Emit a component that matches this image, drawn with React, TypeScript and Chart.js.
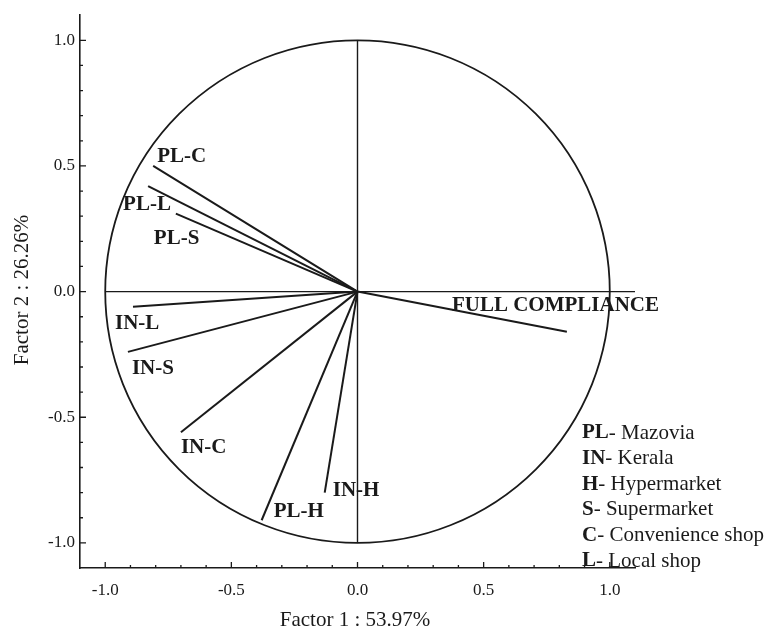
import React, { useEffect, useRef } from "react";
import { Chart, registerables } from "chart.js";

Chart.register(...registerables);

// ---- data ----
const VECTOR_NAMES = ["PL-C", "PL-L", "PL-S", "IN-L", "IN-S", "IN-C", "PL-H", "IN-H", "FULL COMPLIANCE"];
const FACTOR1 = [-0.81, -0.83, -0.72, -0.89, -0.91, -0.7, -0.38, -0.13, 0.83];
const FACTOR2 = [0.5, 0.42, 0.31, -0.06, -0.24, -0.56, -0.91, -0.8, -0.16];
const TICK_VALUES = [-1.0, -0.5, 0.0, 0.5, 1.0];
const X_TITLE = "Factor 1 : 53.97%";
const Y_TITLE = "Factor 2 : 26.26%";
const LEGEND_KEYS = ["PL", "IN", "H", "S", "C", "L"];
const LEGEND_TEXT = ["Mazovia", "Kerala", "Hypermarket", "Supermarket", "Convenience shop", "Local shop"];

// label placement (pixel offsets from vector tips) – style, not data
const LABEL_OFFSETS: [number, number][] = [
  [4, -9],
  [-25, 19],
  [-22, 25],
  [-18, 17],
  [4, 17],
  [0, 15],
  [12, -9],
  [8, -2],
  [-115, -26],
];

const FONT = "'Liberation Serif', 'Times New Roman', serif";
const INK = "#1a1a1a";

const overlayPlugin = {
  id: "overlay",
  beforeDatasetsDraw(chart: any) {
    const { ctx, scales } = chart;
    const xs = scales.x;
    const ys = scales.y;
    const cx = xs.getPixelForValue(0);
    const cy = ys.getPixelForValue(0);
    const rx = xs.getPixelForValue(1) - cx;
    const ry = cy - ys.getPixelForValue(1);
    ctx.save();
    ctx.strokeStyle = INK;
    ctx.lineWidth = 1.8;
    ctx.beginPath();
    ctx.ellipse(cx, cy, rx, ry, 0, 0, Math.PI * 2);
    ctx.stroke();
    ctx.lineWidth = 1.4;
    ctx.beginPath();
    ctx.moveTo(cx, ys.getPixelForValue(1));
    ctx.lineTo(cx, ys.getPixelForValue(-1));
    ctx.moveTo(xs.getPixelForValue(-1), cy);
    ctx.lineTo(xs.getPixelForValue(1.1), cy);
    ctx.stroke();

    // inward tick marks (major 0.5, minor 0.1)
    ctx.lineWidth = 1.3;
    ctx.beginPath();
    const bottom = chart.chartArea.bottom;
    const left = chart.chartArea.left;
    for (let k = -10; k <= 10; k++) {
      const v = k / 10;
      const len = k % 5 === 0 ? 6 : 3;
      const px = xs.getPixelForValue(v);
      ctx.moveTo(px, bottom);
      ctx.lineTo(px, bottom - len);
      const py = ys.getPixelForValue(v);
      ctx.moveTo(left, py);
      ctx.lineTo(left + len, py);
    }
    ctx.stroke();
    ctx.restore();
  },
  afterDatasetsDraw(chart: any) {
    const { ctx, scales } = chart;
    const xs = scales.x;
    const ys = scales.y;
    ctx.save();
    ctx.fillStyle = INK;
    ctx.textBaseline = "middle";
    ctx.textAlign = "left";
    VECTOR_NAMES.forEach((name, i) => {
      const px = xs.getPixelForValue(FACTOR1[i]) + LABEL_OFFSETS[i][0];
      const py = ys.getPixelForValue(FACTOR2[i]) + LABEL_OFFSETS[i][1];
      ctx.font = `bold 21px ${FONT}`;
      ctx.fillText(name, px, py);
    });

    // legend
    const lx = 582;
    const ly0 = 433;
    LEGEND_KEYS.forEach((key, i) => {
      const y = ly0 + i * 25.6;
      ctx.font = `bold 21px ${FONT}`;
      ctx.fillText(key, lx, y);
      const w = ctx.measureText(key).width;
      ctx.font = `21px ${FONT}`;
      ctx.fillText("- " + LEGEND_TEXT[i], lx + w, y);
    });

    // axis titles
    ctx.font = `21px ${FONT}`;
    ctx.textAlign = "center";
    ctx.fillText(X_TITLE, 355, 620);
    ctx.translate(22, 290);
    ctx.rotate(-Math.PI / 2);
    ctx.fillText(Y_TITLE, 0, 0);
    ctx.restore();
  },
};

export default function App() {
  const canvasRef = useRef<HTMLCanvasElement | null>(null);

  useEffect(() => {
    const canvas = canvasRef.current;
    if (!canvas) return;
    const datasets = VECTOR_NAMES.map((name, i) => ({
      label: name,
      data: [
        { x: 0, y: 0 },
        { x: FACTOR1[i], y: FACTOR2[i] },
      ],
      showLine: true,
      borderColor: INK,
      borderWidth: 2,
      pointRadius: 0,
      fill: false,
    }));
    const tickCfg = {
      font: { family: FONT, size: 17 },
      color: INK,
      callback: (v: any) => Number(v).toFixed(1),
    };
    const chart = new Chart(canvas, {
      type: "scatter",
      data: { datasets },
      options: {
        responsive: false,
        animation: false,
        events: [],
        layout: { padding: { left: 0, top: 13, right: 133, bottom: 0 } },
        plugins: { legend: { display: false }, tooltip: { enabled: false } },
        scales: {
          x: {
            type: "linear",
            min: -1.1,
            max: 1.1,
            afterBuildTicks: (s: any) => {
              s.ticks = TICK_VALUES.map((v) => ({ value: v }));
            },
            afterFit: (s: any) => {
              s.height = 64;
            },
            grid: { display: false, drawTicks: false },
            border: { display: true, color: INK, width: 1.6 },
            ticks: { ...tickCfg, padding: 12, maxRotation: 0 },
          },
          y: {
            type: "linear",
            min: -1.1,
            max: 1.1,
            afterBuildTicks: (s: any) => {
              s.ticks = TICK_VALUES.map((v) => ({ value: v }));
            },
            afterFit: (s: any) => {
              s.width = 80;
            },
            grid: { display: false, drawTicks: false },
            border: { display: true, color: INK, width: 1.6 },
            ticks: { ...tickCfg, padding: 5 },
          },
        },
      },
      plugins: [overlayPlugin],
    } as any);
    return () => chart.destroy();
  }, []);

  return (
    <div style={{ position: "absolute", left: 0, top: 0, width: 768, height: 632, background: "#fff" }}>
      <canvas ref={canvasRef} width={768} height={632} style={{ display: "block" }} />
    </div>
  );
}
